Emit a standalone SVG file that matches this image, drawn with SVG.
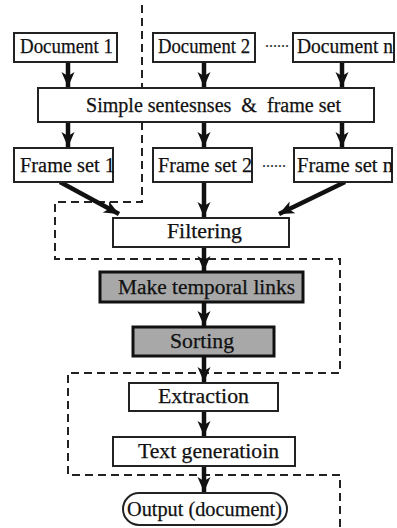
<svg xmlns="http://www.w3.org/2000/svg" width="397" height="528" viewBox="0 0 397 528">
<style>
.box{fill:#fff;stroke:#222;stroke-width:2}
.gbox{fill:#a8a8a8;stroke:#111;stroke-width:3}
.t{font-family:"Liberation Serif","Times New Roman",serif;font-size:20.5px;fill:#111;stroke:#111;stroke-width:0.25}
.dots{font-family:"Liberation Serif",serif;font-size:16px;fill:#222}
.arr{stroke:#111;stroke-width:4.5;fill:none;marker-end:url(#ah)}
.dash{fill:none;stroke:#222;stroke-width:2;stroke-dasharray:8 5}
</style>
<defs>
<marker id="ah" markerUnits="userSpaceOnUse" markerWidth="16" markerHeight="16" viewBox="0 0 16 16" refX="15" refY="8" orient="auto">
<path d="M0,1.5 L15,8 L0,14.5 L4,8 Z" fill="#111"/>
</marker>
</defs>
<g id="boundary">
<path class="dash" d="M142,5 V202 H55 V259 H340 V373 H68 V475 H340 V528"/>
</g>
<g id="connectors">
<line class="arr" x1="68" y1="62" x2="68" y2="87"/>
<line class="arr" x1="204" y1="62" x2="204" y2="87"/>
<line class="arr" x1="342" y1="62" x2="342" y2="87"/>
<line class="arr" x1="68" y1="122" x2="68" y2="147"/>
<line class="arr" x1="204" y1="122" x2="204" y2="147"/>
<line class="arr" x1="342" y1="122" x2="342" y2="147"/>
<line class="arr" x1="60" y1="182" x2="119" y2="214"/>
<line class="arr" x1="204" y1="182" x2="204" y2="217"/>
<line class="arr" x1="345" y1="182" x2="279" y2="214"/>
<line class="arr" x1="204" y1="247" x2="204" y2="271"/>
<line class="arr" x1="204" y1="302" x2="204" y2="326"/>
<line class="arr" x1="204" y1="356" x2="204" y2="382"/>
<line class="arr" x1="204" y1="411" x2="204" y2="436"/>
<line class="arr" x1="204" y1="466" x2="204" y2="492"/>
</g>
<g id="doc1"><rect class="box" x="14" y="33" width="103" height="29"/><text class="t" x="20" y="53" textLength="93" lengthAdjust="spacingAndGlyphs">Document 1</text></g>
<g id="doc2"><rect class="box" x="153" y="33" width="102" height="29"/><text class="t" x="158" y="53" textLength="92" lengthAdjust="spacingAndGlyphs">Document 2</text></g>
<text class="dots" x="265" y="47">......</text>
<g id="docn"><rect class="box" x="293" y="33" width="101" height="29"/><text class="t" x="297" y="53" textLength="96" lengthAdjust="spacingAndGlyphs">Document n</text></g>
<g id="simple"><rect class="box" x="38" y="88" width="336" height="34"/><text class="t" x="86" y="112" textLength="255" lengthAdjust="spacingAndGlyphs" xml:space="preserve" style="white-space:pre">Simple sentesnses  &amp;  frame set</text></g>
<g id="fs1"><rect class="box" x="14" y="148" width="99" height="34"/><text class="t" x="20" y="172" textLength="95" lengthAdjust="spacingAndGlyphs">Frame set 1</text></g>
<g id="fs2"><rect class="box" x="153" y="148" width="99" height="34"/><text class="t" x="158" y="172" textLength="94" lengthAdjust="spacingAndGlyphs">Frame set 2</text></g>
<text class="dots" x="262" y="167">......</text>
<g id="fsn"><rect class="box" x="294" y="148" width="98" height="34"/><text class="t" x="297" y="172" textLength="96" lengthAdjust="spacingAndGlyphs">Frame set n</text></g>
<g id="filtering"><rect class="box" x="113" y="218" width="176" height="29"/><text class="t" x="167" y="238" textLength="75" lengthAdjust="spacingAndGlyphs">Filtering</text></g>
<g id="temporal"><rect class="gbox" x="100" y="272" width="203" height="30"/><text class="t" x="118" y="294" textLength="177" lengthAdjust="spacingAndGlyphs">Make temporal links</text></g>
<g id="sorting"><rect class="gbox" x="133" y="327" width="141" height="29"/><text class="t" x="170" y="348" textLength="64" lengthAdjust="spacingAndGlyphs">Sorting</text></g>
<g id="extraction"><rect class="box" x="129" y="383" width="149" height="28"/><text class="t" x="158" y="403" textLength="91" lengthAdjust="spacingAndGlyphs">Extraction</text></g>
<g id="textgen"><rect class="box" x="113" y="437" width="182" height="29"/><text class="t" x="138" y="458" textLength="141" lengthAdjust="spacingAndGlyphs">Text generatioin</text></g>
<g id="output"><rect class="box" x="123" y="493" width="164" height="32" rx="16" ry="16"/><text class="t" x="127" y="516" textLength="155" lengthAdjust="spacingAndGlyphs">Output (document)</text></g>
</svg>
